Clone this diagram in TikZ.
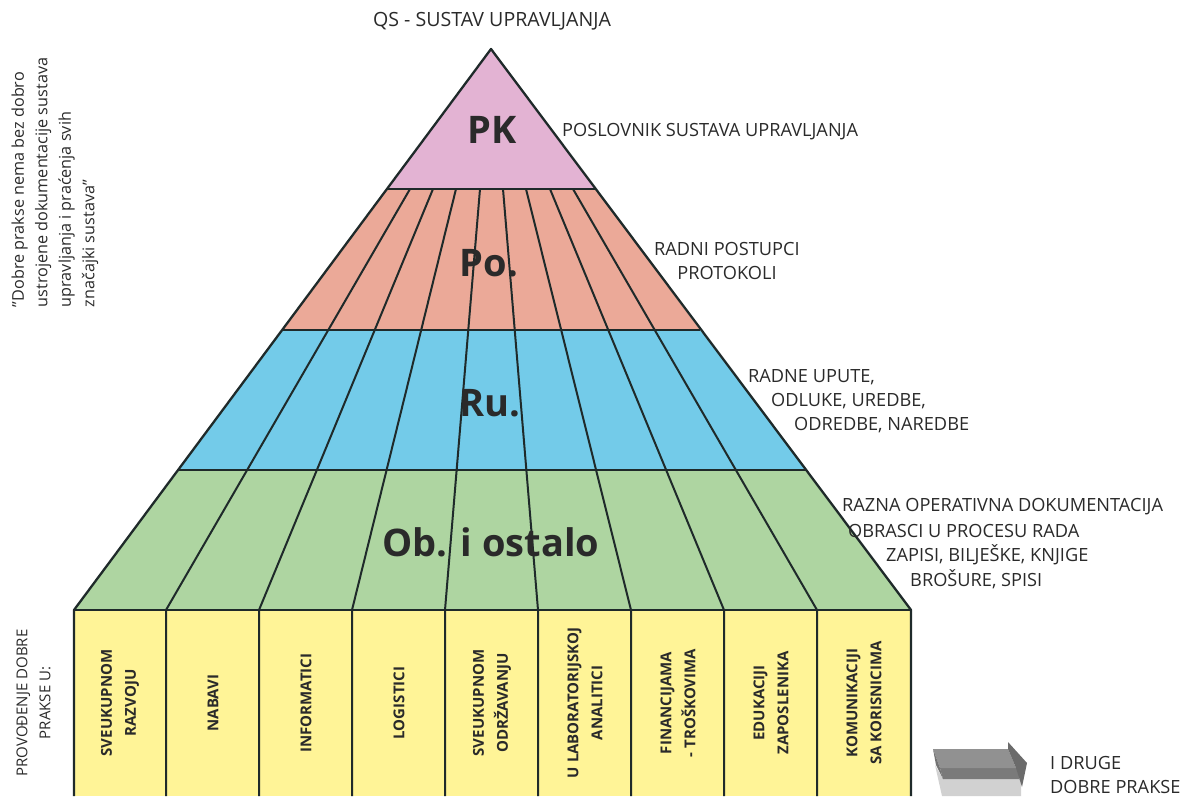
\documentclass[tikz,border=0pt]{standalone}
\usepackage{fontspec}
\setmainfont{Open Sans}
\definecolor{pk}{HTML}{E3B3D3}
\definecolor{po}{HTML}{EBA998}
\definecolor{ru}{HTML}{73CBE9}
\definecolor{ob}{HTML}{AED5A1}
\definecolor{yb}{HTML}{FFF497}
\definecolor{ink}{HTML}{2A2A2A}
\definecolor{ln}{HTML}{1F2A2A}
\tikzset{
  band/.style={draw=ln,line width=2.3pt,line join=round},
  rib/.style={draw=ln,line width=2pt},
  note/.style={text=ink,font=\fontsize{18.2}{24}\selectfont,inner sep=0pt,align=left,anchor=west},
  tier/.style={text=ink,font=\fontsize{38}{40}\selectfont\bfseries,inner sep=0pt},
  vlab/.style={text=ink,font=\fontsize{15}{24}\selectfont\bfseries,inner sep=0pt,align=center,rotate=90},
  side/.style={text=ink,inner sep=0pt,rotate=90},
}
\begin{document}
\begin{tikzpicture}[x=1pt,y=-1pt]
\useasboundingbox (0,0) rectangle (1188,796);
% tiers
\fill[yb] (74,610) rectangle (911,796);
\fill[ob] (74,610) -- (179,470) -- (806,470) -- (911,610) -- cycle;
\fill[ru] (179,470) -- (283,330) -- (700,330) -- (806,470) -- cycle;
\fill[po] (283,330) -- (388,189) -- (595,189) -- (700,330) -- cycle;
\fill[pk] (388,189) -- (491,49) -- (595,189) -- cycle;
% named ends of the ribs
\foreach \n/\t/\b in {1/410/166,2/433/259,3/456/352,4/480/445,5/503/538,6/526/631,7/550/724,8/573/817}{
  \coordinate (t\n) at (\t,189);
  \coordinate (b\n) at (\b,610);
  \coordinate (e\n) at (\b,796);
  \draw[rib] (t\n) -- (b\n) -- (e\n);
}
\coordinate (apex) at (491,49);
\coordinate (bl) at (74,610); \coordinate (br) at (911,610);
\coordinate (el) at (74,796); \coordinate (er) at (911,796);
\draw[band] (el) -- (bl) -- (apex) -- (br) -- (er);
\draw[band] (bl) -- (br);
\draw[band] (179,470) -- (806,470);
\draw[band] (283,330) -- (700,330);
\draw[band] (388,189) -- (595,189);
% tier labels
\node[tier] (lpk) at (492,130) {PK};
\node[tier] (lpo) at (489,263) {Po.};
\node[tier] (lru) at (490,403) {Ru.};
\node[tier] (lob) at (491,542) {Ob. i ostalo};
% notes
\node[note,anchor=center,font=\fontsize{19.6}{24}\selectfont] (title) at (492,21) {QS - SUSTAV UPRAVLJANJA};
\node[note] (n1) at (562,132) {POSLOVNIK SUSTAVA UPRAVLJANJA};
\node[note,align=center] (n2) at (654,261) {RADNI POSTUPCI\\PROTOKOLI};
\node[note] (n3a) at (748,377) {RADNE UPUTE,};
\node[note] (n3b) at (771,401) {ODLUKE, UREDBE,};
\node[note] (n3c) at (794,425) {ODREDBE, NAREDBE};
\node[note] (n4a) at (842,507) {RAZNA OPERATIVNA DOKUMENTACIJA};
\node[note] (n4b) at (848,531) {OBRASCI U PROCESU RADA};
\node[note] (n4c) at (886,555) {ZAPISI, BILJEŠKE, KNJIGE};
\node[note] (n4d) at (910,579) {BROŠURE, SPISI};
\node[note] (n5) at (1050,775) {I DRUGE\\DOBRE PRAKSE};
% vertical labels
\node[side,align=left,font=\fontsize{16.2}{23.5}\selectfont] (q) at (55,182.5) {"Dobre prakse nema bez dobro\\ustrojene dokumentacije sustava\\upravljanja i praćenja svih\\značajki sustava"};
\node[side,align=center,font=\fontsize{15}{23}\selectfont] (pd) at (33.5,703) {PROVOĐENJE DOBRE\\PRAKSE U:};
\node[vlab] (c1) at (120,703) {SVEUKUPNOM\\RAZVOJU};
\node[vlab] (c2) at (213,703) {NABAVI};
\node[vlab] (c3) at (306,703) {INFORMATICI};
\node[vlab] (c4) at (399,703) {LOGISTICI};
\node[vlab] (c5) at (492,703) {SVEUKUPNOM\\ODRŽAVANJU};
\node[vlab] (c6) at (585,703) {U LABORATORIJSKOJ\\ANALITICI};
\node[vlab] (c7) at (678,703) {FINANCIJAMA\\- TROŠKOVIMA};
\node[vlab] (c8) at (771,703) {EDUKACIJI\\ZAPOSLENIKA};
\node[vlab] (c9) at (864,703) {KOMUNIKACIJI\\SA KORISNICIMA};
% arrow
\fill[black!18] (935,765) -- (942,796) -- (1021,796) -- (1021,779) -- (943,779) -- cycle;
\fill[black!52] (940,768) -- (1019,768) -- (1019,779) -- (943,779) -- cycle;
\fill[black!43] (933,749) -- (1008,749) -- (1016,768) -- (940,768) -- cycle;
\fill[black!58] (1008,749) -- (1008,742) -- (1027,763) -- (1022,787) -- (1016,768) -- cycle;
\fill[black!55] (933,749) -- (940,768) -- (943,779) -- (936,765) -- cycle;
\end{tikzpicture}
\end{document}
